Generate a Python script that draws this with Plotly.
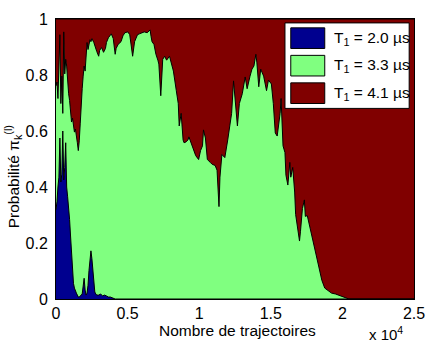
import plotly.graph_objects as go

# ---- data ----
# cumulative top of the blue band (T1 = 2.0 us)
x_blue = [0, 68, 136, 203, 271, 339, 407, 474, 542, 610, 678, 745, 813, 881, 949, 1016,
          1084, 1152, 1220, 1287, 1355, 1423, 1491, 1558, 1626, 1694, 1762, 1829, 1897,
          1965, 2033, 2100, 2168, 2236, 2304, 2371, 2439, 2507, 2575, 2642, 2710, 2778,
          2846, 2981, 3117, 3252, 3388, 3523, 3659, 3794, 3997, 4133, 25000]
cum_blue = [0.319, 0.347, 0.400, 0.435, 0.575, 0.418, 0.446, 0.600, 0.425, 0.470, 0.558,
            0.400, 0.365, 0.330, 0.284, 0.225, 0.172, 0.102, 0.056, 0.039, 0.025, 0.021,
            0.014, 0.007, 0.007, 0.011, 0.011, 0.018, 0.046, 0.074, 0.032, 0.014, 0.021,
            0.049, 0.102, 0.154, 0.172, 0.144, 0.102, 0.049, 0.025, 0.018, 0.014, 0.014,
            0.018, 0.011, 0.014, 0.011, 0.007, 0.007, 0.004, 0.0, 0.0]

# cumulative top of the green band (T1 = 2.0 + 3.3 us)
x_green = [0, 68, 136, 203, 271, 339, 407, 474, 542, 610, 678, 745, 813, 881, 949, 1016,
           1084, 1152, 1220, 1287, 1355, 1423, 1491, 1558, 1626, 1694, 1762, 1829, 1897,
           1965, 2033, 2100, 2168, 2236, 2304, 2371, 2439, 2507, 2642, 2710, 2846, 2981,
           3049, 3184, 3320, 3455, 3523, 3659, 3862, 3997, 4133, 4201, 4336, 4539, 4675,
           4810, 5014, 5149, 5217, 5352, 5488, 5691, 5827, 6030, 6165, 6369, 6572, 6640,
           6707, 6843, 6911, 6978, 7114, 7182, 7317, 7453, 7588, 7724, 7927, 8062, 8198,
           8401, 8537, 8604, 8740, 8875, 8943, 9079, 9214, 9282, 9418, 9553, 9756, 9959,
           10095, 10230, 10298, 10434, 10569, 10772, 10908, 11111, 11247, 11382, 11450,
           11585, 11789, 11992, 12127, 12263, 12398, 12534, 12669, 12805, 13008, 13211,
           13347, 13550, 13686, 13821, 13957, 14024, 14160, 14295, 14499, 14702, 14837,
           15041, 15176, 15312, 15447, 15650, 15718, 15854, 15989, 16057, 16192, 16328,
           16396, 16531, 16667, 16734, 16870, 17005, 17073, 17209, 17344, 17412, 17547,
           17683, 17886, 18089, 18225, 18360, 18564, 18767, 19038, 19241, 19512, 19715,
           19919, 20122, 20325, 20461, 25000]
cum_green = [0.761, 0.775, 0.716, 0.839, 0.944, 0.698, 0.796, 0.663, 0.954, 0.804, 0.856,
             0.832, 0.768, 0.733, 0.709, 0.670, 0.632, 0.646, 0.611, 0.596, 0.607, 0.572,
             0.558, 0.530, 0.565, 0.628, 0.716, 0.751, 0.796, 0.832, 0.814, 0.881, 0.916,
             0.891, 0.909, 0.926, 0.919, 0.930, 0.916, 0.902, 0.884, 0.867, 0.888, 0.898,
             0.881, 0.895, 0.916, 0.933, 0.947, 0.930, 0.874, 0.895, 0.909, 0.919, 0.940,
             0.951, 0.954, 0.944, 0.923, 0.867, 0.919, 0.944, 0.947, 0.951, 0.954, 0.951,
             0.961, 0.937, 0.919, 0.909, 0.884, 0.874, 0.853, 0.839, 0.726, 0.856, 0.867,
             0.853, 0.867, 0.839, 0.814, 0.744, 0.698, 0.618, 0.663, 0.568, 0.558, 0.561,
             0.568, 0.579, 0.558, 0.540, 0.512, 0.498, 0.530, 0.547, 0.604, 0.575, 0.498,
             0.488, 0.481, 0.477, 0.460, 0.330, 0.435, 0.516, 0.505, 0.568, 0.611, 0.663,
             0.779, 0.681, 0.618, 0.698, 0.733, 0.793, 0.751, 0.796, 0.821, 0.832, 0.874,
             0.846, 0.758, 0.821, 0.796, 0.744, 0.782, 0.768, 0.698, 0.593, 0.582, 0.663,
             0.716, 0.547, 0.523, 0.442, 0.407, 0.488, 0.435, 0.470, 0.382, 0.302, 0.260,
             0.207, 0.242, 0.323, 0.354, 0.295, 0.298, 0.267, 0.218, 0.165, 0.137, 0.112,
             0.067, 0.039, 0.028, 0.021, 0.018, 0.014, 0.011, 0.007, 0.004, 0.0, 0.0]

# cumulative top of the red band (all three sum to 1)
x_red = [0, 25000]
cum_red = [1.0, 1.0]

labels = ["T<sub>1</sub> = 2.0 µs", "T<sub>1</sub> = 3.3 µs", "T<sub>1</sub> = 4.1 µs"]
colors = ["#00008F", "#80FF80", "#800000"]

x_tickvals = [0, 5000, 10000, 15000, 20000, 25000]
x_ticktext = ["0", "0.5", "1", "1.5", "2", "2.5"]
y_tickvals = [0, 0.2, 0.4, 0.6, 0.8, 1]
y_ticktext = ["0", "0.2", "0.4", "0.6", "0.8", "1"]

FONT = "Liberation Sans, Arial, sans-serif"

fig = go.Figure()
for xs, ys, name, col in [(x_red, cum_red, labels[2], colors[2]),
                          (x_green, cum_green, labels[1], colors[1]),
                          (x_blue, cum_blue, labels[0], colors[0])]:
    fig.add_trace(go.Scatter(x=xs, y=ys, mode="lines", fill="tozeroy",
                             fillcolor=col, line=dict(color="black", width=1),
                             name=name, showlegend=False, hoverinfo="skip"))

# manual legend (MATLAB style)
lx0, lx1, ly0, ly1 = 0.6396, 0.9865, 0.6807, 0.986
fig.add_shape(type="rect", xref="paper", yref="paper", x0=lx0, x1=lx1, y0=ly0, y1=ly1,
              fillcolor="white", line=dict(color="black", width=1), layer="above")
sym_y = [(0.8947, 0.9684), (0.7965, 0.8702), (0.6982, 0.7719)]
txt_y = [0.9316, 0.8333, 0.7351]
for i in range(3):
    fig.add_shape(type="rect", xref="paper", yref="paper", x0=0.6558, x1=0.7507,
                  y0=sym_y[i][0], y1=sym_y[i][1], fillcolor=colors[i],
                  line=dict(color="black", width=1), layer="above")
    fig.add_annotation(xref="paper", yref="paper", x=0.772, y=txt_y[i],
                       xanchor="left", yanchor="middle", text=labels[i], showarrow=False,
                       font=dict(family=FONT, size=15.5, color="black"))

# x 10^4 multiplier
fig.add_annotation(xref="paper", yref="paper", x=0.9756, y=-0.081, xanchor="right",
                   yanchor="top", text="x 10<sup>4</sup>", showarrow=False,
                   font=dict(family=FONT, size=15, color="black"))

# x-axis title
fig.add_annotation(xref="paper", yref="paper", x=0.507, y=-0.114, xanchor="center",
                   yanchor="middle", showarrow=False, text="Nombre de trajectoires",
                   font=dict(family=FONT, size=15.5, color="black"))

# y-axis title
fig.add_annotation(xref="paper", yref="paper", x=-0.119, y=0.436, xanchor="center",
                   yanchor="middle", textangle=-90, showarrow=False,
                   text="Probabilité π<sub>k</sub><sup>(l)</sup>",
                   font=dict(family=FONT, size=15.5, color="black"))

fig.update_layout(
    width=436, height=342,
    margin=dict(l=56, r=11, t=14, b=43),
    paper_bgcolor="white", plot_bgcolor="white",
    font=dict(family=FONT, size=16, color="black"),
    xaxis=dict(range=[0, 25000], tickvals=x_tickvals, ticktext=x_ticktext,
               showgrid=False, zeroline=False, showline=True, mirror=True,
               linecolor="black", linewidth=1, ticks="", ticklabelstandoff=0),
    yaxis=dict(range=[0, 1], tickvals=y_tickvals, ticktext=y_ticktext,
               showgrid=False, zeroline=False, showline=True, mirror=True,
               linecolor="black", linewidth=1, ticks="", ticklabelstandoff=4),
)

fig.write_html("out.html")
